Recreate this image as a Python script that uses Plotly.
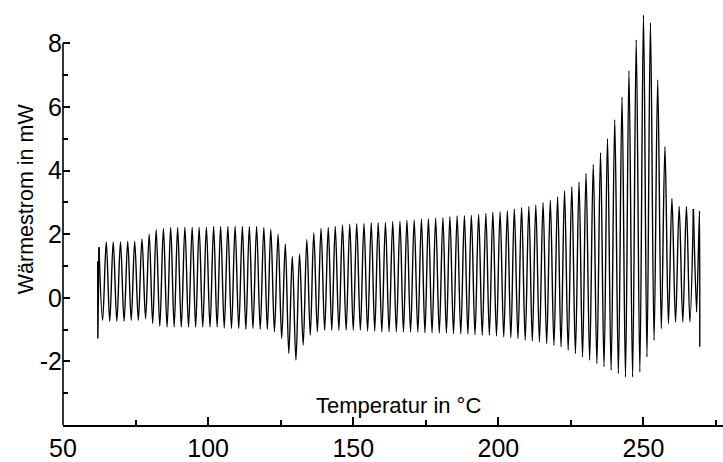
import plotly.graph_objects as go

# Peak temperatures (°C) of each modulation cycle
peak_temp = [62.4, 64.9, 67.3, 69.8, 72.3, 74.7, 77.2, 79.7, 82.1, 84.6,
             87.1, 89.5, 92.0, 94.5, 96.9, 99.4, 101.9, 104.3, 106.8, 109.3,
             111.8, 114.2, 116.7, 119.2, 121.6, 124.1, 126.6, 129.0, 131.5, 134.0,
             136.4, 138.9, 141.4, 143.8, 146.3, 148.8, 151.2, 153.7, 156.2, 158.6,
             161.1, 163.6, 166.1, 168.5, 171.0, 173.5, 175.9, 178.4, 180.9, 183.3,
             185.8, 188.3, 190.7, 193.2, 195.7, 198.1, 200.6, 203.1, 205.5, 208.0,
             210.5, 212.9, 215.4, 217.9, 220.4, 222.8, 225.3, 227.8, 230.2, 232.7,
             235.2, 237.6, 240.1, 242.6, 245.0, 247.5, 250.0, 252.4, 254.9, 257.4,
             259.8, 262.3, 264.8, 267.2]

# Heat flow maxima (mW) of each cycle
peak_vals = [1.59, 1.76, 1.76, 1.76, 1.78, 1.78, 1.85, 2.00, 2.14, 2.18,
             2.21, 2.21, 2.22, 2.22, 2.22, 2.22, 2.24, 2.24, 2.24, 2.24,
             2.24, 2.24, 2.24, 2.21, 2.16, 2.00, 1.69, 1.30, 1.38, 1.83,
             2.05, 2.18, 2.21, 2.24, 2.29, 2.31, 2.33, 2.34, 2.35, 2.36,
             2.37, 2.39, 2.41, 2.44, 2.45, 2.47, 2.49, 2.50, 2.52, 2.55,
             2.58, 2.58, 2.60, 2.63, 2.65, 2.69, 2.71, 2.74, 2.79, 2.84,
             2.87, 2.92, 2.99, 3.07, 3.18, 3.36, 3.49, 3.64, 3.91, 4.19,
             4.56, 5.00, 5.60, 6.31, 7.14, 8.11, 8.89, 8.65, 6.85, 4.75,
             3.12, 2.87, 2.87, 2.79]

# Heat flow minima (mW) between consecutive maxima
trough_vals = [-0.71, -0.74, -0.74, -0.74, -0.71, -0.71, -0.66, -0.81, -0.90, -0.92,
               -0.92, -0.92, -0.92, -0.92, -0.92, -0.92, -0.92, -0.95, -0.97, -0.97,
               -0.99, -0.97, -0.99, -0.99, -1.07, -1.28, -1.75, -1.96, -1.49, -1.18,
               -1.07, -1.02, -1.02, -1.02, -1.02, -1.02, -1.02, -1.05, -1.05, -1.07,
               -1.07, -1.07, -1.08, -1.08, -1.08, -1.10, -1.10, -1.11, -1.11, -1.13,
               -1.13, -1.15, -1.16, -1.18, -1.18, -1.20, -1.23, -1.26, -1.28, -1.33,
               -1.36, -1.39, -1.44, -1.49, -1.54, -1.65, -1.75, -1.86, -1.96, -2.07,
               -2.17, -2.28, -2.38, -2.49, -2.49, -2.33, -1.86, -1.34, -0.97, -0.81,
               -0.76, -0.76, -0.76]

# start and end of the measurement
start_temp = [61.95, 62.0, 62.4]
start_vals = [1.15, -1.28, 1.59]
end_temp = [267.2, 268.3, 269.3, 269.4]
end_vals = [2.79, -0.45, 2.73, -1.54]

x_ticks = [50, 100, 150, 200, 250]
y_ticks = [-2, 0, 2, 4, 6, 8]
y_ticktext = ["-2", "0", "2", "4", "6", "8"]

xs, ys = [], []
for i, (t, v) in enumerate(zip(peak_temp, peak_vals)):
    xs.append(t)
    ys.append(v)
    if i < len(trough_vals):
        xs.append((t + peak_temp[i + 1]) / 2)
        ys.append(trough_vals[i])

LW = 1.4
fig = go.Figure()
fig.add_trace(go.Scatter(x=start_temp, y=start_vals, mode="lines",
                         line=dict(color="black", width=LW), hoverinfo="skip"))
fig.add_trace(go.Scatter(x=xs, y=ys, mode="lines",
                         line=dict(color="black", width=LW, shape="spline", smoothing=1.0)))
fig.add_trace(go.Scatter(x=end_temp, y=end_vals, mode="lines",
                         line=dict(color="black", width=LW, shape="spline", smoothing=0.6)))

FONT = "Liberation Sans, Arial, sans-serif"
fig.update_layout(
    width=723, height=462,
    margin=dict(l=63, r=0, t=2, b=35),
    paper_bgcolor="white", plot_bgcolor="white",
    showlegend=False,
    font=dict(family=FONT, color="black"),
    xaxis=dict(range=[50, 277.4], tickvals=x_ticks,
               ticks="inside", ticklen=8, tickwidth=1.5, tickcolor="black",
               showline=True, linecolor="black", linewidth=1.6,
               showgrid=False, zeroline=False,
               tickfont=dict(size=25, family=FONT),
               minor=dict(tickvals=[75, 125, 175, 225, 275], ticks="inside", ticklen=5,
                          tickwidth=1.5, tickcolor="black", showgrid=False)),
    yaxis=dict(range=[-4, 9.3], tickvals=y_ticks, ticktext=y_ticktext,
               ticks="inside", ticklen=7, tickwidth=1.5, tickcolor="black",
               showline=False, showgrid=False, zeroline=False,
               tickfont=dict(size=25, family=FONT),
               minor=dict(tickvals=[-3, -1, 1, 3, 5, 7], ticks="inside", ticklen=5,
                          tickwidth=1.5, tickcolor="black", showgrid=False)),
)
fig.add_shape(type="line", xref="paper", yref="y", x0=0, x1=0, y0=-4, y1=8,
              line=dict(color="black", width=1.6))
fig.add_annotation(text="Temperatur in °C", xref="x", yref="y", x=165.5, y=-3.4,
                   xanchor="center", yanchor="middle",
                   showarrow=False, font=dict(size=22, family=FONT, color="black"))
fig.add_annotation(text="Wärmestrom in mW", xref="paper", yref="y", x=-0.056, y=3.1,
                   xanchor="center", yanchor="middle",
                   textangle=-90, showarrow=False,
                   font=dict(size=21.5, family=FONT, color="black"))
fig.write_html("out.html")
